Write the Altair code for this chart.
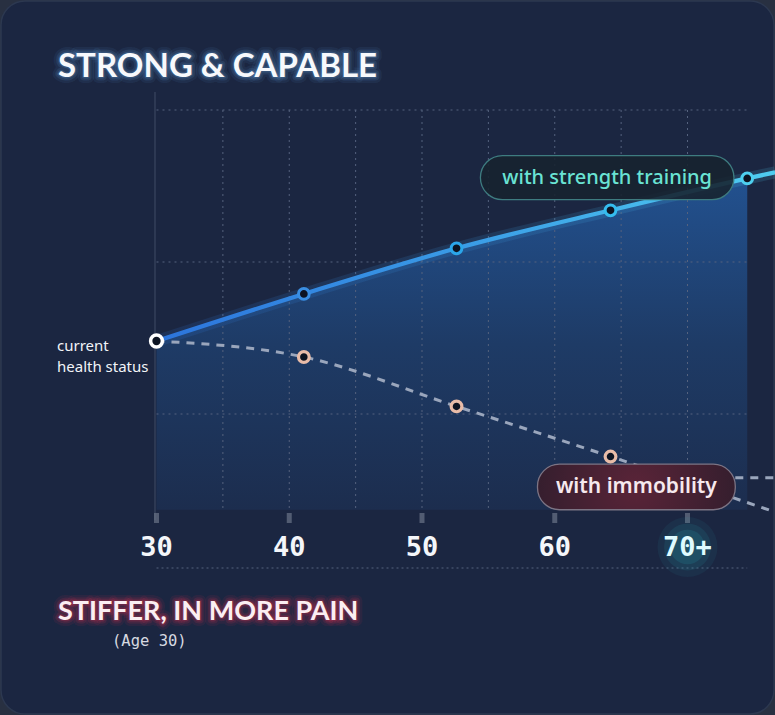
import altair as alt
import pandas as pd

# ---------------- data ----------------
ages_strength = [30, 41.1, 52.6, 64.2, 74.5, 76.6]
health_strength = [1.48, 1.79, 2.09, 2.34, 2.55, 2.59]
ages_immob = [30, 41.1, 52.6, 64.2, 76.6]
health_immob = [1.48, 1.375, 1.05, 0.72, 0.355]
plateau_ages = [73.6, 76.6]
plateau_health = [0.58, 0.58]
tick_ages = [30, 40, 50, 60, 70]
tick_labels = ["30", "40", "50", "60", "70+"]
grid_ages = [35, 40, 45, 50, 55, 60, 65, 70]
grid_levels = [1, 2, 3]
area_end = 74.5
area_floor = 0.37
grid_top = 3.0

# label anchors (data coordinates)
pill_strength = dict(x0=54.4, x1=73.5, y0=2.41, y1=2.70, tx=63.95, ty=2.553, label="with strength training")
pill_immob = dict(x0=58.7, x1=73.6, y0=0.37, y1=0.67, tx=66.15, ty=0.52, label="with immobility")

W, H = 775, 715
xs = alt.Scale(domain=[30, 70], range=[156.5, 687.5], nice=False, zero=False)
ys = alt.Scale(domain=[0, 3], range=[566, 110], nice=False, zero=False)


def X(f, **kw):
    return alt.X(f, scale=xs, axis=None, **kw)


def Y(f, **kw):
    return alt.Y(f, scale=ys, axis=None, **kw)


one = pd.DataFrame({"k": [0]})

strength = pd.DataFrame({"age": ages_strength, "h": health_strength})
area_df = strength[strength["age"] <= area_end].assign(base=area_floor)
immob = pd.DataFrame({"age": ages_immob, "h": health_immob})
plateau = pd.DataFrame({"age": plateau_ages, "h": plateau_health})
ticks = pd.DataFrame({"age": tick_ages, "lab": tick_labels})
vgrid = pd.DataFrame({"age": grid_ages, "top": grid_top, "bot": area_floor})
hgrid = pd.DataFrame({"h": grid_levels, "a0": 30, "a1": area_end})

# ---------------- layers ----------------
card = alt.Chart(one).mark_rect(
    cornerRadius=24, fill="#1b2641", stroke="#2c3850", strokeWidth=1.5
).encode(x=alt.value(1), x2=alt.value(W - 1), y=alt.value(1), y2=alt.value(H - 1))

area = alt.Chart(area_df).mark_area(
    interpolate="monotone",
    color=alt.Gradient(
        gradient="linear",
        stops=[alt.GradientStop(color="#22518f", offset=0),
               alt.GradientStop(color="#1e3b66", offset=0.5),
               alt.GradientStop(color="#1c2d4e", offset=1)],
        x1=0, x2=0, y1=0, y2=1,
    ),
    opacity=1,
).encode(x=X("age:Q"), y=Y("h:Q"), y2="base:Q")

hrules = alt.Chart(hgrid).mark_rule(
    color="#55627e", strokeDash=[2, 4], strokeWidth=1
).encode(y=Y("h:Q"), x=X("a0:Q"), x2="a1:Q")

vrules = alt.Chart(vgrid).mark_rule(
    color="#55627e", strokeDash=[2, 4], strokeWidth=1
).encode(x=X("age:Q"), y=Y("top:Q"), y2="bot:Q")

left_border = alt.Chart(one).mark_rule(color="#3b4660", strokeWidth=1.2).encode(
    x=alt.value(155), y=alt.value(92), y2=alt.value(520)
)

bottom_line = alt.Chart(pd.DataFrame({"a0": [30], "a1": [area_end]})).mark_rule(
    color="#55627e", strokeDash=[2, 3], strokeWidth=1.2
).encode(x=X("a0:Q"), x2="a1:Q", y=alt.value(568))

tick_marks = alt.Chart(ticks).mark_tick(
    orient="vertical", thickness=5, size=10, color="#6a7388"
).encode(x=X("age:Q"), y=alt.value(518))

line_grad = alt.Gradient(
    gradient="linear",
    stops=[alt.GradientStop(color="#2c74dc", offset=0),
           alt.GradientStop(color="#3a9ce6", offset=0.5),
           alt.GradientStop(color="#4fcdf0", offset=1)],
    x1=0, x2=1, y1=0, y2=0,
)

strength_glow = alt.Chart(strength).mark_line(
    interpolate="monotone", color=line_grad, strokeWidth=12, opacity=0.15
).encode(x=X("age:Q"), y=Y("h:Q"))
strength_line = alt.Chart(strength).mark_line(
    interpolate="monotone", color=line_grad, strokeWidth=4.2
).encode(x=X("age:Q"), y=Y("h:Q"))

immob_line = alt.Chart(immob).mark_line(
    interpolate="monotone", color="#9aa6bc", strokeWidth=3, strokeDash=[8, 7]
).encode(x=X("age:Q"), y=Y("h:Q"))
plateau_line = alt.Chart(plateau).mark_line(
    color="#9aa6bc", strokeWidth=3, strokeDash=[8, 7]
).encode(x=X("age:Q"), y=Y("h:Q"))

strength_pts = alt.Chart(strength.iloc[1:5]).mark_point(
    filled=False, fill="#0d1422", fillOpacity=1, size=115, strokeWidth=3, opacity=1
).encode(
    x=X("age:Q"), y=Y("h:Q"),
    stroke=alt.Stroke("age:Q", scale=alt.Scale(domain=[41, 75], range=["#3a8ee2", "#4fd0ef"]), legend=None),
)
immob_pts = alt.Chart(immob.iloc[1:4]).mark_point(
    filled=False, fill="#0d1422", fillOpacity=1, size=115, strokeWidth=3.2,
    stroke="#e9bca8", opacity=1
).encode(x=X("age:Q"), y=Y("h:Q"))
start_pt = alt.Chart(strength.iloc[:1]).mark_point(
    filled=False, fill="#0d1422", fillOpacity=1, size=140, strokeWidth=3.5,
    stroke="#ffffff", opacity=1
).encode(x=X("age:Q"), y=Y("h:Q"))

# pills
ps = pd.DataFrame([pill_strength])
pi = pd.DataFrame([pill_immob])
pill_s = alt.Chart(ps).mark_rect(
    cornerRadius=22, fill="#172330", fillOpacity=0.9, stroke="#3e7c80", strokeWidth=1.3
).encode(x=X("x0:Q"), x2="x1:Q", y=Y("y0:Q"), y2="y1:Q")
pill_s_text = alt.Chart(ps).mark_text(
    font="Noto Sans", fontSize=20, fontWeight=500, color="#6ae3d4", align="center", baseline="middle"
).encode(x=X("tx:Q"), y=Y("ty:Q"), text="label:N")

pill_i = alt.Chart(pi).mark_rect(
    cornerRadius=22,
    fill=alt.Gradient(
        gradient="radial",
        stops=[alt.GradientStop(color="#5a2438", offset=0),
               alt.GradientStop(color="#2e1d2c", offset=1)],
        x1=0.5, y1=0.5, r1=0, x2=0.5, y2=0.5, r2=0.6,
    ),
    stroke="#7c7484", strokeWidth=1.3,
).encode(x=X("x0:Q"), x2="x1:Q", y=Y("y0:Q"), y2="y1:Q")
pill_i_text = alt.Chart(pi).mark_text(
    font="Noto Sans", fontSize=21, fontWeight=600, color="#f6e9ee", align="center", baseline="middle"
).encode(x=X("tx:Q"), y=Y("ty:Q"), text="label:N")

# tick labels with glow on 70+
glow_df = ticks[ticks["lab"] == "70+"]
glows = [
    alt.Chart(glow_df).mark_circle(color="#2bb8c4", opacity=op, size=sz).encode(
        x=X("age:Q"), y=alt.value(547)
    )
    for sz, op in [(3600, 0.07), (2200, 0.10), (1200, 0.14)]
]
tick_text = alt.Chart(ticks).mark_text(
    font="DejaVu Sans Mono", fontSize=27, fontWeight="bold", align="center", baseline="middle"
).encode(
    x=X("age:Q"), y=alt.value(548), text="lab:N",
    color=alt.Color("lab:N", scale=alt.Scale(domain=tick_labels,
                                            range=["#f4f6fa"] * 4 + ["#dffbff"]), legend=None),
)


def glow_text(txt, x, y, font, size, fill, glow, weight="bold", align="left"):
    layers = []
    for sw, op in [(12, 0.10), (7, 0.16), (3, 0.25)]:
        layers.append(alt.Chart(one).mark_text(
            text=txt, font=font, fontSize=size, fontWeight=weight, align=align, baseline="middle",
            fill=fill, stroke=glow, strokeWidth=sw, strokeOpacity=op, strokeJoin="round", fillOpacity=0,
        ).encode(x=alt.value(x), y=alt.value(y)))
    layers.append(alt.Chart(one).mark_text(
        text=txt, font=font, fontSize=size, fontWeight=weight, align=align, baseline="middle", fill=fill,
    ).encode(x=alt.value(x), y=alt.value(y)))
    return layers


title = glow_text("STRONG & CAPABLE", 58, 67, "Lato", 33, "#f7f9fc", "#5a8fc4")
bottom_title = glow_text("STIFFER, IN MORE PAIN", 58, 612, "Lato", 27, "#fbeef2", "#d0304e")

age_note = alt.Chart(one).mark_text(
    text="(Age 30)", font="DejaVu Sans Mono", fontSize=15.5, color="#d6d9e0", align="left", baseline="middle"
).encode(x=alt.value(112), y=alt.value(641))

current = alt.Chart(one).mark_text(
    text="current\nhealth status", lineBreak="\n", font="Noto Sans", fontSize=15, color="#f2f4f8",
    align="left", baseline="middle", lineHeight=21,
).encode(x=alt.value(57), y=alt.value(346))

chart = alt.layer(
    card, area, hrules, vrules, left_border, bottom_line, tick_marks,
    strength_glow, strength_line, immob_line, plateau_line,
    pill_s, pill_i, strength_pts, immob_pts, start_pt,
    pill_s_text, pill_i_text,
    *glows, tick_text, *title, *bottom_title, age_note, current,
).properties(
    width=W, height=H, autosize=alt.AutoSizeParams(type="none"), padding=0,
    background="#283041",
).configure_view(stroke=None)

chart.save("out.html", embed_options={"renderer": "svg", "actions": False})
